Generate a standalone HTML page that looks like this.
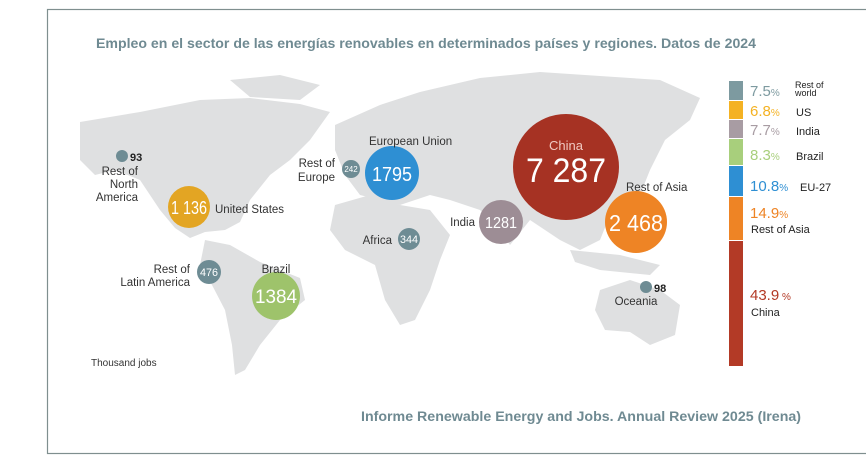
<!DOCTYPE html>
<html><head><meta charset="utf-8"><style>
body{margin:0;background:#fff;width:866px;height:464px;overflow:hidden;font-family:"Liberation Sans",sans-serif}
</style></head><body>
<svg width="866" height="464" viewBox="0 0 866 464" xmlns="http://www.w3.org/2000/svg" font-family="Liberation Sans, sans-serif">
<rect x="47.5" y="9.5" width="830" height="444" fill="#fff" stroke="#7f8f8f" stroke-width="1.2"/>
<text x="96" y="48" font-size="13.5" font-weight="bold" fill="#6f8a92" textLength="660" lengthAdjust="spacingAndGlyphs">Empleo en el sector de las energías renovables en determinados países y regiones. Datos de 2024</text>
<g fill="#dfe0e1">
<path d="M80,122 L140,112 L200,100 L250,98 L300,104 L330,112 L310,140 L290,160 L270,175 L250,200 L240,222 L225,230 L205,232 L190,238 L175,228 L160,210 L140,180 L115,170 L95,175 L80,160Z"/>
<path d="M230,80 L280,75 L320,85 L300,100 L250,97Z"/>
<path d="M205,240 L230,245 L260,262 L300,278 L305,300 L280,320 L260,345 L245,370 L235,375 L232,345 L225,310 L212,285 L200,265Z"/>
<path d="M335,125 L380,105 L420,92 L480,78 L540,72 L600,76 L660,80 L700,98 L690,120 L665,140 L650,170 L640,195 L610,215 L600,240 L580,250 L560,240 L530,220 L510,245 L500,230 L480,210 L450,200 L430,195 L400,205 L380,200 L360,195 L345,175 L335,150Z"/>
<path d="M335,205 L370,195 L400,205 L430,210 L450,235 L440,260 L430,290 L415,320 L400,325 L385,300 L375,265 L345,250 L330,230Z"/>
<path d="M570,250 L620,255 L660,265 L650,275 L600,270 L575,262Z"/>
<path d="M600,290 L630,280 L660,290 L680,305 L675,335 L650,345 L630,332 L605,330 L595,310Z"/>
</g>
<circle cx="566" cy="167" r="53" fill="#a63223"/>
<text x="566" y="150" font-size="13" fill="#f0c8c0" text-anchor="middle">China</text>
<text x="566" y="182" font-size="34" fill="#fff" text-anchor="middle" textLength="80" lengthAdjust="spacingAndGlyphs">7 287</text>
<circle cx="636" cy="222" r="31" fill="#ee8425"/>
<text x="636" y="231" font-size="23" fill="#fff" text-anchor="middle" textLength="54" lengthAdjust="spacingAndGlyphs">2 468</text>
<text x="626" y="191" font-size="11.5" fill="#333">Rest of Asia</text>
<circle cx="392" cy="173" r="27" fill="#2e8fd3"/>
<text x="392" y="181" font-size="20" fill="#fff" text-anchor="middle" textLength="40" lengthAdjust="spacingAndGlyphs">1795</text>
<text x="369" y="145" font-size="11.5" fill="#333">European Union</text>
<circle cx="189" cy="207" r="21" fill="#e3a523"/>
<text x="189" y="214" font-size="18" fill="#fff" text-anchor="middle" textLength="36" lengthAdjust="spacingAndGlyphs">1 136</text>
<text x="215" y="213" font-size="11.5" fill="#333">United States</text>
<circle cx="276" cy="296" r="24" fill="#9ec36b"/>
<text x="276" y="303" font-size="19" fill="#fff" text-anchor="middle" textLength="42" lengthAdjust="spacingAndGlyphs">1384</text>
<text x="276" y="273" font-size="11.5" fill="#333" text-anchor="middle">Brazil</text>
<circle cx="501" cy="222" r="22" fill="#9d8d95"/>
<text x="501" y="228" font-size="16" fill="#fff" text-anchor="middle" textLength="32" lengthAdjust="spacingAndGlyphs">1281</text>
<text x="475" y="226" font-size="11.5" fill="#333" text-anchor="end">India</text>
<circle cx="209" cy="272" r="12" fill="#6e8c94"/>
<text x="209" y="276" font-size="11" fill="#fff" text-anchor="middle" textLength="18" lengthAdjust="spacingAndGlyphs">476</text>
<text x="190" y="273" font-size="11.5" fill="#333" text-anchor="end">Rest of</text>
<text x="190" y="286" font-size="11.5" fill="#333" text-anchor="end">Latin America</text>
<circle cx="409" cy="239" r="11" fill="#6e8c94"/>
<text x="409" y="243" font-size="11" fill="#fff" text-anchor="middle" textLength="18" lengthAdjust="spacingAndGlyphs">344</text>
<text x="392" y="244" font-size="11.5" fill="#333" text-anchor="end">Africa</text>
<circle cx="351" cy="169" r="9" fill="#6e8c94"/>
<text x="351" y="172" font-size="8" fill="#fff" text-anchor="middle">242</text>
<text x="335" y="167" font-size="11.5" fill="#333" text-anchor="end">Rest of</text>
<text x="335" y="181" font-size="11.5" fill="#333" text-anchor="end">Europe</text>
<circle cx="122" cy="156" r="6" fill="#6e8c94"/>
<text x="130" y="161" font-size="11" font-weight="bold" fill="#222">93</text>
<text x="138" y="175" font-size="11.5" fill="#333" text-anchor="end">Rest of</text>
<text x="138" y="188" font-size="11.5" fill="#333" text-anchor="end">North</text>
<text x="138" y="201" font-size="11.5" fill="#333" text-anchor="end">America</text>
<circle cx="646" cy="287" r="6" fill="#6e8c94"/>
<text x="654" y="292" font-size="11" font-weight="bold" fill="#222">98</text>
<text x="636" y="305" font-size="11.5" fill="#333" text-anchor="middle">Oceania</text>
<text x="91" y="366" font-size="10" fill="#333">Thousand jobs</text>
<rect x="729" y="81" width="14" height="19" fill="#7d9aa0"/>
<rect x="729" y="101" width="14" height="18" fill="#f4b223"/>
<rect x="729" y="120" width="14" height="18" fill="#a89ca3"/>
<rect x="729" y="139" width="14" height="26" fill="#a8cf7c"/>
<rect x="729" y="166" width="14" height="30" fill="#2e8fd3"/>
<rect x="729" y="197" width="14" height="43" fill="#ee8425"/>
<rect x="729" y="241" width="14" height="125" fill="#b33a26"/>
<g font-size="15">
<text x="750" y="96" fill="#7d9aa0">7.5<tspan font-size="10">%</tspan></text>
<text x="750" y="116" fill="#f4b223">6.8<tspan font-size="10">%</tspan></text>
<text x="750" y="135" fill="#a89ca3">7.7<tspan font-size="10">%</tspan></text>
<text x="750" y="160" fill="#a8cf7c">8.3<tspan font-size="10">%</tspan></text>
<text x="750" y="191" fill="#2e8fd3">10.8<tspan font-size="10">%</tspan></text>
<text x="750" y="218" fill="#ee8425">14.9<tspan font-size="10">%</tspan></text>
<text x="750" y="300" fill="#b33a26">43.9<tspan font-size="10"> %</tspan></text>
</g>
<g font-size="11" fill="#222">
<text x="795" y="88" font-size="9">Rest of</text>
<text x="795" y="96" font-size="9">world</text>
<text x="796" y="116">US</text>
<text x="796" y="135">India</text>
<text x="796" y="160">Brazil</text>
<text x="800" y="191">EU-27</text>
<text x="751" y="233">Rest of Asia</text>
<text x="751" y="316">China</text>
</g>
<text x="361" y="421" font-size="13.5" font-weight="bold" fill="#6f8a92" textLength="440" lengthAdjust="spacingAndGlyphs">Informe Renewable Energy and Jobs. Annual Review 2025 (Irena)</text>
</svg>
</body></html>
